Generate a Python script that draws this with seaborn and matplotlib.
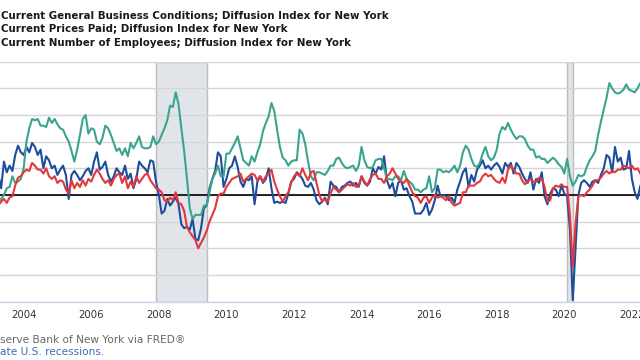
import numpy as np
import pandas as pd
import matplotlib
matplotlib.use("Agg")
import matplotlib.pyplot as plt
import seaborn as sns

# monthly values, Apr 2003 .. Apr 2022
start = "2003-04-01"

business = (
    [15, 5, 25, 17, 22, 18, 30, 37, 32]
    + [30, 36, 32, 39, 36, 30, 34, 20, 29, 26, 20, 22]
    + [15, 19, 22, 15, -3, 15, 18, 15, 11, 14, 18, 20]
    + [15, 25, 32, 19, 21, 25, 15, 10, 14, 20, 17, 15]
    + [22, 12, 16, 5, 12, 25, 22, 20, 17, 26, 25, 10]
    + [0, -14, -12, -3, -8, -5, -2, -7, -22, -25, -24, -26]
    + [-18, -33, -34, -25, -10, -8, 5, 12, 18, 32, 29, 6]
    + [12, 20, 22, 29, 21, 10, 6, 12, 11, 14, -7, 10]
    + [14, 9, 12, 20, 5, -6, -5, -6, -5, -6, 1, 10]
    + [12, 17, 15, 12, 7, 6, 9, 4, -4, -7, -5, -2]
    + [-7, 10, 7, 6, 2, 6, 7, 9, 10, 7, 9, 6]
    + [14, 9, 7, 10, 20, 16, 21, 19, 29, 11, 5, 9]
    + [-1, 9, 11, 4, 5, -1, -5, -14, -14, -14, -11, -6]
    + [-15, -11, -4, 7, -1, 0, -1, -4, -2, -6, 4, 10]
    + [17, 20, 6, 15, 10, 19, 22, 26, 20, 22, 19, 22]
    + [24, 21, 16, 24, 21, 24, 16, 24, 21, 16, 12, 9]
    + [17, 4, 12, 9, 17, -1, -7, 1, 5, 4, -1, 7]
    + [1, -1, -26, -79, -40, 0, 9, 11, 9, 6, 10, 11]
    + [9, 15, 20, 30, 28, 17, 36, 25, 28, 19, 20, 33]
    + [12, 2, -3, 7]
)

prices = (
    [-5, -3, 0, 5, 6, 14, 9, 10, 12]
    + [20, 40, 50, 57, 56, 57, 52, 52, 51, 58, 54, 57]
    + [53, 50, 49, 44, 40, 33, 25, 34, 45, 57, 60, 46]
    + [50, 49, 40, 38, 43, 52, 50, 45, 39, 33, 35, 30]
    + [35, 29, 39, 35, 39, 44, 36, 35, 35, 36, 44, 38]
    + [40, 45, 50, 56, 67, 66, 77, 68, 50, 33, 12, -10]
    + [-18, -15, -15, -15, -8, -8, 2, 12, 16, 22, 14, 14]
    + [31, 31, 35, 39, 44, 35, 26, 24, 22, 29, 25, 32]
    + [38, 48, 54, 59, 69, 63, 49, 36, 28, 26, 22, 25]
    + [26, 26, 49, 46, 38, 25, 14, 11, 17, 17, 16, 15]
    + [18, 22, 22, 27, 28, 24, 21, 20, 21, 22, 18, 22]
    + [36, 26, 21, 20, 21, 26, 27, 27, 20, 12, 12, 11]
    + [14, 14, 11, 18, 12, 10, 8, 4, 4, 2, 4, 5]
    + [14, 2, 5, 19, 19, 17, 18, 17, 19, 22, 17, 22]
    + [32, 37, 34, 27, 22, 21, 24, 31, 36, 29, 26, 28]
    + [34, 46, 51, 49, 54, 49, 45, 42, 44, 44, 42, 37]
    + [34, 34, 28, 29, 27, 27, 24, 26, 28, 26, 23, 21]
    + [16, 27, 14, 7, 10, 15, 14, 15, 21, 26, 29, 33]
    + [45, 55, 64, 73, 84, 80, 77, 76, 77, 79, 83, 79]
    + [78, 77, 80, 84]
)

employees = (
    [-8, -5, -3, -6, -2, -1, 7, 13, 14]
    + [17, 19, 18, 24, 22, 19, 19, 16, 20, 14, 12, 14]
    + [9, 11, 10, 4, 1, 11, 5, 9, 6, 11, 7, 12]
    + [10, 15, 19, 16, 12, 9, 11, 7, 12, 15, 16, 9]
    + [14, 5, 10, 6, 14, 9, 12, 15, 16, 11, 8, 5]
    + [4, 2, -4, -5, -2, -4, 2, -6, -7, -12, -24, -28]
    + [-31, -34, -40, -36, -32, -27, -20, -15, -10, -1, 1, 1]
    + [6, 9, 12, 13, 14, 16, 10, 12, 14, 16, 15, 11]
    + [14, 10, 14, 16, 19, 10, 4, -1, -5, -1, 2, 9]
    + [14, 16, 14, 20, 15, 11, 17, 18, 9, 0, -5, -3]
    + [-5, 1, 6, 4, 2, 4, 6, 8, 7, 9, 6, 7]
    + [14, 10, 7, 12, 15, 16, 12, 12, 9, 14, 16, 20]
    + [16, 12, 10, 9, 12, 7, 2, -1, -2, -6, -2, -1]
    + [-6, -2, 0, -2, -1, -2, -4, -1, -6, -8, -7, -6]
    + [2, 2, 7, 7, 7, 9, 10, 14, 16, 14, 15, 12]
    + [10, 9, 13, 9, 19, 22, 19, 16, 16, 11, 8, 10]
    + [12, 10, 10, 13, 12, 6, -5, -4, 5, 7, 6, 8]
    + [6, 6, -16, -54, -21, -1, 0, -1, 2, 4, 7, 11]
    + [11, 13, 16, 18, 16, 18, 17, 19, 19, 22, 21, 20]
    + [22, 19, 20, 16]
)

titles = [
    "Current General Business Conditions; Diffusion Index for New York",
    "Current Prices Paid; Diffusion Index for New York",
    "Current Number of Employees; Diffusion Index for New York",
]
series_names = ["business", "prices", "employees"]
colors = {"business": "#1d4d9b", "prices": "#3aa48e", "employees": "#e4373c"}

recessions = [("2007-12-01", "2009-06-01"), ("2020-02-01", "2020-04-01")]
year_ticks = list(range(2004, 2023, 2))


def dec_year(d):
    d = pd.Timestamp(d)
    return d.year + (d.month - 1) / 12 + (d.day - 1) / 365


dates = pd.date_range(start, periods=len(business), freq="MS")
df = pd.DataFrame({
    "year": [dec_year(d) for d in dates],
    "business": business,
    "prices": prices,
    "employees": employees,
})
long = df.melt(id_vars="year", var_name="series", value_name="value")

sns.set_style("white")
plt.rcParams["font.family"] = ["DejaVu Sans"]

fig = plt.figure(figsize=(6.4, 3.6), dpi=100)
ax = fig.add_axes([0, 1 - 301.5 / 360, 1, (301.5 - 61.7) / 360])

for a, b in recessions:
    ax.axvspan(dec_year(a), dec_year(b), facecolor="#e1e5ea", edgecolor="#bdbdbd",
               linewidth=1.0, zorder=0)

ax.axhline(0, color="black", linewidth=1.2, zorder=1.5)

sns.lineplot(data=long, x="year", y="value", hue="series", hue_order=series_names,
             palette=colors, linewidth=1.5, legend=False, ax=ax, zorder=2)

ax.set_xlim(2003.30, 2022.24)
ax.set_ylim(-80, 100)
ax.set_yticks(range(-80, 101, 20))
ax.yaxis.grid(True, color="#d6d6d6", linewidth=1.0)
ax.set_axisbelow(True)
ax.tick_params(axis="y", left=False, labelleft=False)
ax.set_xticks(year_ticks)
ax.set_xticklabels([str(y) for y in year_ticks])
ax.tick_params(axis="x", direction="out", length=5.5, width=1, color="#ccd6eb",
               labelsize=7.3, labelcolor="#333333", pad=0.5)
ax.set_xlabel("")
ax.set_ylabel("")
for side in ["left", "right", "top"]:
    ax.spines[side].set_visible(False)
ax.spines["bottom"].set_color("#ccd6eb")
ax.spines["bottom"].set_linewidth(1.0)

for i, t in enumerate(titles):
    fig.text(0.0015, 1 - (16 + 13.5 * i) / 360, t, fontsize=7.4, fontweight="bold",
             color="#1a1a1a", va="center")

fig.text(0.0, 1 - 340 / 360, "serve Bank of New York via FRED\u00ae", fontsize=7.6,
         color="#666666", va="center")
fig.text(0.0, 1 - 352 / 360, "ate U.S. recessions.", fontsize=7.6,
         color="#3d6db5", va="center")

fig.savefig("out.png", dpi=100)
plt.close(fig)
